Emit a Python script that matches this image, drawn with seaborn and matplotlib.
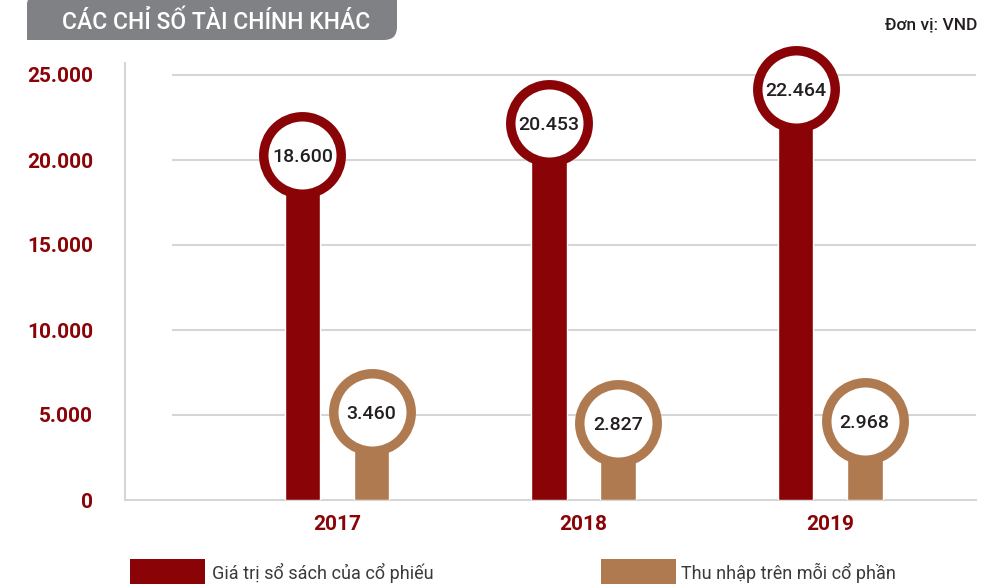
import matplotlib
matplotlib.use("Agg")
import matplotlib.pyplot as plt
import seaborn as sns
import pandas as pd
from matplotlib.path import Path
from matplotlib.patches import PathPatch, Rectangle

# ---------------- data ----------------
years = ["2017", "2018", "2019"]
book_value = [18600, 20453, 22464]          # Giá trị sổ sách của cổ phiếu
eps = [3460, 2827, 2968]                    # Thu nhập trên mỗi cổ phần
series_names = ["Giá trị sổ sách của cổ phiếu", "Thu nhập trên mỗi cổ phần"]
y_ticks = [0, 5000, 10000, 15000, 20000, 25000]
title = "CÁC CHỈ SỐ TÀI CHÍNH KHÁC"
unit_text = "Đơn vị: VND"

RED = "#8A0407"
TAN = "#B07A50"
GRID = "#D6D6D6"
TITLE_BG = "#808184"
colors = {series_names[0]: RED, series_names[1]: TAN}

sns.set_theme(style="white")
plt.rcParams["font.family"] = ["Roboto", "DejaVu Sans"]

W, H = 981, 584
fig = plt.figure(figsize=(W / 100, H / 100), dpi=100)


def fx(px):
    return px / W


def fy(py):
    return 1 - py / H


PX_PER_UNIT = (500 - 75) / 25000.0
ax = fig.add_axes([fx(125), fy(500), fx(976) - fx(125), fy(63) - fy(500)])

df = pd.DataFrame({
    "Năm": years * 2,
    "Chỉ số": [series_names[0]] * len(years) + [series_names[1]] * len(years),
    "Giá trị": book_value + eps,
})

sns.barplot(data=df, x="Năm", y="Giá trị", hue="Chỉ số", order=years,
            hue_order=series_names, palette=colors, width=0.56, gap=0.48,
            errorbar=None, legend=False, saturation=1, ax=ax, zorder=3)

ax.set_ylim(0, (500 - 63) / PX_PER_UNIT)
ax.set_xlim(-0.86, 2.592)

# gridlines
ax.hlines(y_ticks[1:], -0.669, 2.592, color=GRID, lw=1.5, zorder=1)

for s in ["top", "right"]:
    ax.spines[s].set_visible(False)
for s in ["left", "bottom"]:
    ax.spines[s].set_color(GRID)
    ax.spines[s].set_linewidth(1.5)

ax.set_yticks(y_ticks)
ax.set_yticklabels([f"{v:,}".replace(",", ".") for v in y_ticks])
ax.tick_params(axis="y", length=18, width=1.5, color=GRID, pad=5,
               labelsize=15, labelcolor=RED)
ax.tick_params(axis="x", length=0, pad=11, labelsize=15, labelcolor=RED)
for lab in ax.get_yticklabels() + ax.get_xticklabels():
    lab.set_fontweight("bold")
ax.set_xlabel("")
ax.set_ylabel("")

# circles with value labels on top of each bar
OFFSET = 1700
bars = list(ax.patches)
for p in bars:
    h = p.get_height()
    if h <= 0:
        continue
    xc = p.get_x() + p.get_width() / 2
    col = p.get_facecolor()
    ax.scatter([xc], [h + OFFSET], s=3110, facecolor="white", edgecolor=col,
               linewidth=6.8, zorder=4, clip_on=False)
    ax.text(xc, h + OFFSET, f"{int(round(h)):,}".replace(",", "."),
            ha="center", va="center_baseline", fontsize=14,
            fontweight="medium", color="#231F20", zorder=5)

# title box (rounded top-left and bottom-right corners)
x0, x1, y0, y1 = 27, 397, -2, 40
r1, r2 = 6, 13
verts_px = [
    (x0, y1), (x0, y0 + r1), (x0, y0), (x0 + r1, y0), (x1, y0),
    (x1, y1 - r2), (x1, y1), (x1 - r2, y1), (x0, y1), (x0, y1),
]
codes = [Path.MOVETO, Path.LINETO, Path.CURVE3, Path.CURVE3, Path.LINETO,
         Path.LINETO, Path.CURVE3, Path.CURVE3, Path.LINETO, Path.CLOSEPOLY]
verts = [(fx(a), fy(b)) for a, b in verts_px]
fig.patches.append(PathPatch(Path(verts, codes), transform=fig.transFigure,
                             facecolor=TITLE_BG, edgecolor="none"))
fig.text(fx(216.5), fy(20), title, color="white", fontsize=16.5,
         fontweight="medium", ha="center", va="center_baseline")

fig.text(fx(977), fy(23), unit_text, color="#231F20", fontsize=12.5,
         fontweight="medium", ha="right", va="center_baseline")

# legend at the bottom
for (rx, tx), name in zip([(130, 212), (601, 681)], series_names):
    fig.patches.append(Rectangle((fx(rx), fy(600)), 75 / W, (600 - 559) / H,
                                 transform=fig.transFigure,
                                 facecolor=colors[name], edgecolor="none"))
    fig.text(fx(tx), fy(579), name, color="#3A3A3A", fontsize=13,
             ha="left", va="baseline")

fig.savefig("out.png", dpi=100)
